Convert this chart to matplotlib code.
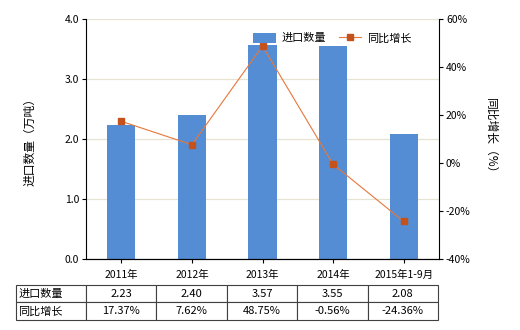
import numpy as np
import matplotlib
matplotlib.use("Agg")
import matplotlib.pyplot as plt
from matplotlib.ticker import FuncFormatter

plt.rcParams["font.family"] = ["Noto Sans CJK SC", "DejaVu Sans"]
plt.rcParams["font.size"] = 7.5

categories = ["2011年", "2012年", "2013年", "2014年", "2015年1-9月"]
quantity = [2.23, 2.40, 3.57, 3.55, 2.08]
growth = [17.37, 7.62, 48.75, -0.56, -24.36]
quantity_labels = ["2.23", "2.40", "3.57", "3.55", "2.08"]
growth_labels = ["17.37%", "7.62%", "48.75%", "-0.56%", "-24.36%"]
row_labels = ["进口数量", "同比增长"]

BAR_COLOR = "#548DD4"
LINE_COLOR = "#E8773A"
MARKER_COLOR = "#C5521B"

fig = plt.figure(figsize=(5.2, 3.3), dpi=100)
ax_w = 353
ax = fig.add_axes([86 / 520, 71 / 330, ax_w / 520, 240 / 330])
x = np.arange(len(categories))

ax.bar(x, quantity, width=0.4, color=BAR_COLOR, label="进口数量", zorder=2)
ax.set_ylim(0, 4.0)
ax.set_xlim(-0.5, len(categories) - 0.5)
ax.set_yticks([0, 1, 2, 3, 4])
ax.yaxis.set_major_formatter(FuncFormatter(lambda v, _: f"{v:.1f}"))
ax.grid(axis="y", color="#E6E3D3", linewidth=0.9, zorder=0)
ax.set_xticks(x)
ax.set_xticklabels(categories)
ax.tick_params(axis="x", length=3, pad=5)
ax.tick_params(axis="y", length=3, pad=2)
for side in ["top", "right"]:
    ax.spines[side].set_visible(False)
ax.set_ylabel("进口数量（万吨）", fontsize=8.5, labelpad=20)

ax2 = ax.twinx()
ax2.plot(x, growth, color=LINE_COLOR, linewidth=0.8, marker="s", markersize=4,
         markerfacecolor=MARKER_COLOR, markeredgecolor=MARKER_COLOR,
         label="同比增长", zorder=3)
ax2.set_ylim(-40, 60)
ax2.set_yticks([-40, -20, 0, 20, 40, 60])
ax2.yaxis.set_major_formatter(FuncFormatter(lambda v, _: f"{v:.0f}%"))
ax2.tick_params(axis="y", length=3, pad=2)
ax2.spines["top"].set_visible(False)
ax2.spines["left"].set_visible(False)
ax2.set_ylabel("同比增长（%）", fontsize=8.5, rotation=270, labelpad=19)

h1, l1 = ax.get_legend_handles_labels()
h2, l2 = ax2.get_legend_handles_labels()
ax2.legend(h1 + h2, l1 + l2, loc="upper right", bbox_to_anchor=(0.95, 0.985),
           ncol=2, frameon=False, fontsize=8, handlelength=2.0,
           columnspacing=1.2, handletextpad=0.5, handleheight=1.0)

# data table under the chart (first column holds the row names)
cell_text = [[row_labels[0]] + quantity_labels, [row_labels[1]] + growth_labels]
label_w = 70
table = ax.table(
    cellText=cell_text,
    cellLoc="center",
    colWidths=[label_w] + [(ax_w - 1 - label_w + 70) / 5] * 5,
    bbox=[-label_w / ax_w, -0.254, (ax_w - 1 + label_w) / ax_w, 0.146],
)
table.auto_set_font_size(False)
table.set_fontsize(8)
for (r, c), cell in table.get_celld().items():
    cell.set_edgecolor("#404040")
    cell.set_linewidth(0.8)
    if c == 0:
        cell.get_text().set_horizontalalignment("left")
        cell.PAD = 0.03

fig.savefig("out.png", dpi=100)
